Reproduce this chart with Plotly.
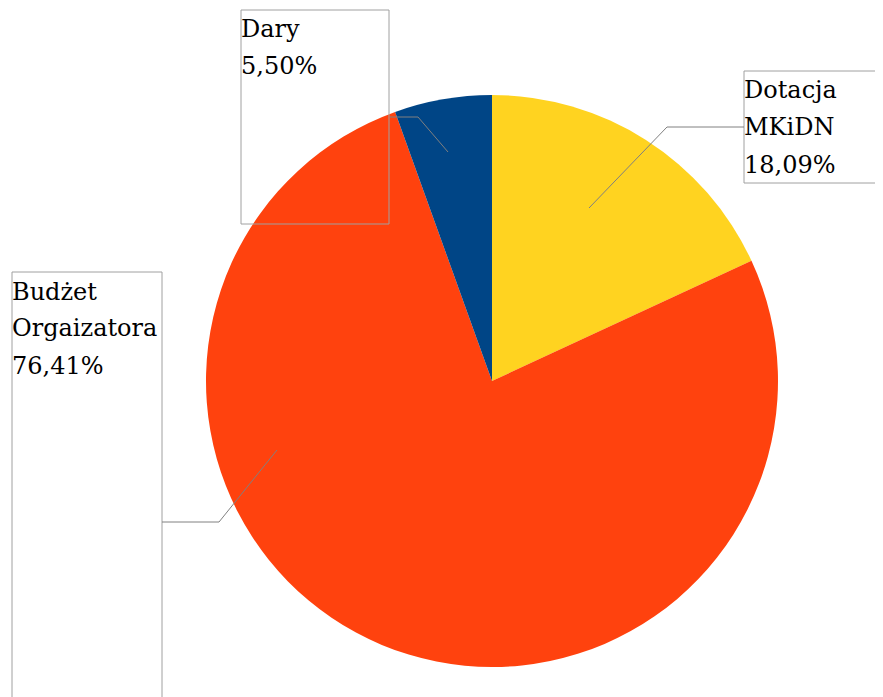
import plotly.graph_objects as go

W, H = 883, 697
OFF = 8  # page body margin offset
FONT = "DejaVu Serif"
FSIZE = 24
LINE_GAP = 37

# data
categories = ["Dotacja MKiDN", "Budżet Orgaizatora", "Dary"]
label_lines = [["Dotacja", "MKiDN"], ["Budżet", "Orgaizatora"], ["Dary"]]
values = [18.09, 76.41, 5.50]
colors = ["#FFD320", "#FF420E", "#004586"]

# layout (pixel positions of label boxes and leader lines)
cx, cy, r = 492, 381, 286
boxes = [(744, 71, 890, 183), (12, 272, 162, 720), (241, 10, 389, 224)]
leaders = [
    [(744, 127), (667, 127), (589, 208)],
    [(162, 522), (219, 522), (277, 450)],
    [(390, 117), (418, 117), (448, 152)],
]


def px(x):
    return (x - OFF) / W


def py(y):
    return 1 - (y - OFF) / H


fig = go.Figure()
fig.add_trace(go.Pie(
    labels=categories,
    values=values,
    marker=dict(colors=colors, line=dict(width=0)),
    sort=False,
    direction="clockwise",
    rotation=0,
    textinfo="none",
    showlegend=False,
    domain=dict(x=[px(cx - r), px(cx + r)], y=[py(cy + r), py(cy - r)]),
))

shapes = []
annotations = []
for lines, v, box, lead in zip(label_lines, values, boxes, leaders):
    x0, y0, x1, y1 = box
    shapes.append(dict(type="rect", xref="paper", yref="paper",
                       x0=px(x0), x1=px(x1), y0=py(y1), y1=py(y0),
                       line=dict(color="#A0A0A0", width=1), layer="above"))
    path = "M " + " L ".join(f"{px(a)},{py(b)}" for a, b in lead)
    shapes.append(dict(type="path", xref="paper", yref="paper", path=path,
                       line=dict(color="#808080", width=1), layer="above"))
    pct = f"{v:.2f}".replace(".", ",") + "%"
    for i, line in enumerate(lines + [pct]):
        annotations.append(dict(xref="paper", yref="paper", x=px(x0 - 1),
                                y=py(y0 + 4.5 + i * LINE_GAP),
                                xanchor="left", yanchor="top", align="left",
                                showarrow=False, text=line, borderpad=0,
                                font=dict(family=FONT, size=FSIZE, color="#000000")))

fig.update_layout(
    width=W, height=H, autosize=False,
    margin=dict(l=0, r=0, t=0, b=0),
    paper_bgcolor="white", plot_bgcolor="white",
    font=dict(family=FONT),
    shapes=shapes, annotations=annotations,
)

fig.write_html("out.html")
